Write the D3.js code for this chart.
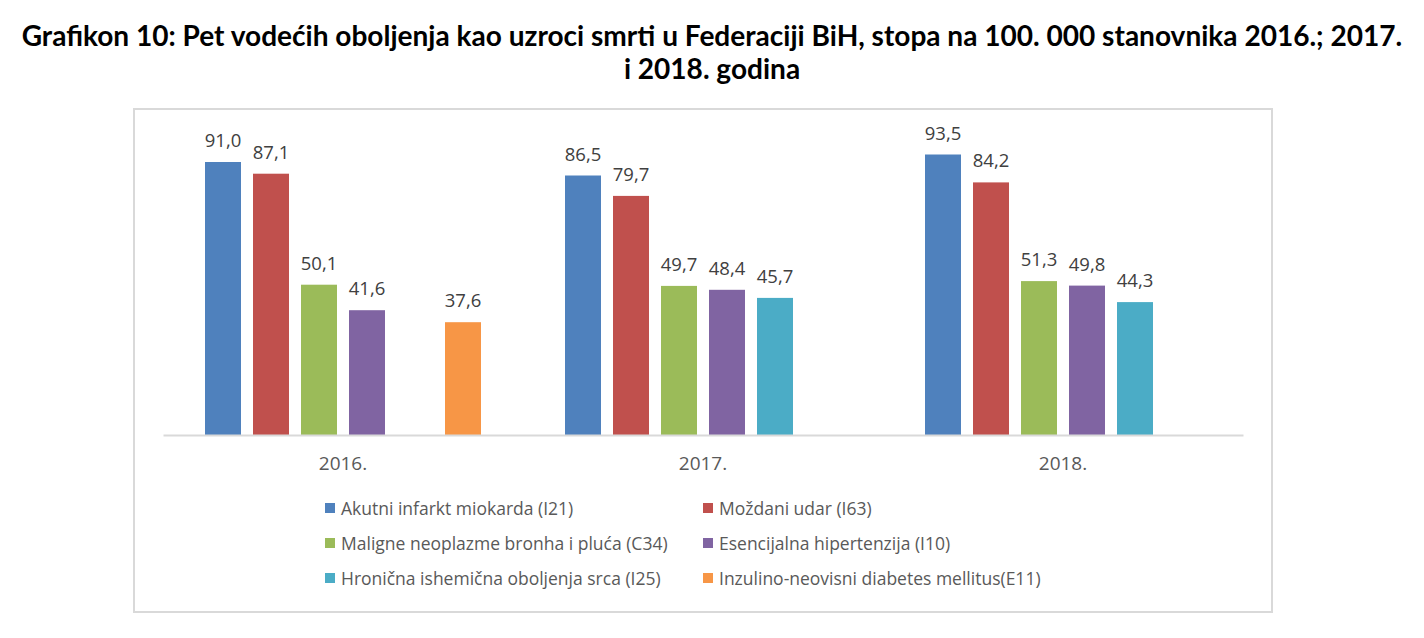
<!DOCTYPE html>
<html>
<head>
<meta charset="utf-8">
<script src="https://cdn.jsdelivr.net/npm/d3@7"></script>
<style>
  html, body { margin: 0; padding: 0; background: #fff; }
  svg { display: block; }
</style>
</head>
<body>
<svg id="chart" width="1424" height="638"></svg>
<script>
const titleLines = [
  "Grafikon 10: Pet vodećih oboljenja kao uzroci smrti u Federaciji BiH, stopa na 100. 000 stanovnika 2016.; 2017.",
  "i 2018. godina"
];
const years = ["2016.", "2017.", "2018."];
const seriesNames = [
  "Akutni infarkt miokarda (I21)",
  "Moždani udar (I63)",
  "Maligne neoplazme bronha i pluća (C34)",
  "Esencijalna hipertenzija (I10)",
  "Hronična ishemična oboljenja srca (I25)",
  "Inzulino-neovisni diabetes mellitus(E11)"
];
const akutni      = [91.0, 86.5, 93.5];
const mozdani     = [87.1, 79.7, 84.2];
const maligne     = [50.1, 49.7, 51.3];
const esencijalna = [41.6, 48.4, 49.8];
const hronicna    = [null, 45.7, 44.3];
const inzulino    = [37.6, null, null];
const seriesValues = [akutni, mozdani, maligne, esencijalna, hronicna, inzulino];
const colors = ["#4F81BD", "#C0504D", "#9BBB59", "#8064A2", "#4BACC6", "#F79646"];
const legendOrder = [0, 1, 2, 3, 4, 5];

const svg = d3.select("#chart");

// Title
const titleFont = "Lato, 'Open Sans', sans-serif";
const t1 = svg.append("text")
  .attr("x", 712).attr("y", 46)
  .attr("text-anchor", "middle")
  .style("font-family", titleFont).style("font-weight", "bold")
  .style("font-size", "24px").style("fill", "#000")
  .text(titleLines[0]);
const w1 = t1.node().getComputedTextLength();
const fs = 24 * 1381 / w1;
t1.style("font-size", fs + "px");
svg.append("text")
  .attr("x", 712).attr("y", 79)
  .attr("text-anchor", "middle")
  .style("font-family", titleFont).style("font-weight", "bold")
  .style("font-size", fs + "px").style("fill", "#000")
  .text(titleLines[1]);

// Chart border
svg.append("rect")
  .attr("x", 134).attr("y", 109).attr("width", 1138).attr("height", 503)
  .attr("fill", "#fff").attr("stroke", "#D9D9D9").attr("stroke-width", 2);

// Scales
const x0 = d3.scaleBand().domain(years).range([163, 1243]).paddingInner(0).paddingOuter(0);
const x1 = d3.scaleBand().domain(d3.range(seriesNames.length)).range([0, x0.bandwidth()])
  .paddingInner(0.25).paddingOuter(0.875);
const y = d3.scaleLinear().domain([0, 100]).range([435, 135]);

const fmt = v => d3.format(".1f")(v).replace(".", ",");
const labelFont = "'Open Sans', 'Noto Sans', sans-serif";

// Bars
const data = [];
years.forEach((yr, i) => {
  seriesValues.forEach((vals, s) => {
    if (vals[i] != null) data.push({ year: yr, s, v: vals[i] });
  });
});

const g = svg.append("g");
g.selectAll("rect.bar").data(data).join("rect")
  .attr("class", "bar")
  .attr("x", d => x0(d.year) + x1(d.s))
  .attr("y", d => y(d.v))
  .attr("width", x1.bandwidth())
  .attr("height", d => y(0) - y(d.v))
  .attr("fill", d => colors[d.s]);

g.selectAll("text.lbl").data(data).join("text")
  .attr("class", "lbl")
  .attr("x", d => x0(d.year) + x1(d.s) + x1.bandwidth() / 2)
  .attr("y", d => y(d.v) - 15)
  .attr("text-anchor", "middle")
  .style("font-family", labelFont).style("font-size", "18.5px").style("fill", "#404040")
  .text(d => fmt(d.v));

// Axis
const axis = svg.append("g")
  .attr("transform", `translate(0,${y(0)})`)
  .call(d3.axisBottom(x0).tickSize(0).tickSizeOuter(0).tickPadding(0));
axis.select(".domain").attr("stroke", "#D9D9D9").attr("stroke-width", 2);
axis.selectAll(".tick text")
  .attr("y", 35).attr("dy", 0)
  .style("font-family", labelFont).style("font-size", "19px").style("fill", "#595959");

// Legend
const colX = [325, 703];
const rowY = [508, 543, 578];
const leg = svg.append("g");
legendOrder.forEach((s, k) => {
  const cx = colX[k % 2], cy = rowY[Math.floor(k / 2)];
  leg.append("rect").attr("x", cx).attr("y", cy - 5).attr("width", 10).attr("height", 10)
    .attr("fill", colors[s]);
  leg.append("text").attr("x", cx + 16).attr("y", cy + 6.5)
    .style("font-family", labelFont).style("font-size", "17.5px").style("fill", "#595959")
    .text(seriesNames[s]);
});
</script>
</body>
</html>
